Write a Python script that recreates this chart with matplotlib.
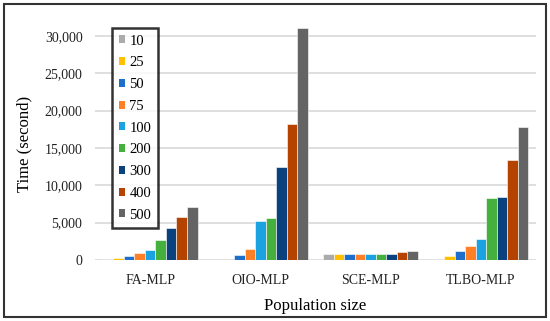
import matplotlib
matplotlib.use("Agg")
import matplotlib.pyplot as plt
import numpy as np
from matplotlib.patches import Patch, Rectangle
from matplotlib.ticker import FuncFormatter

plt.rcParams['font.family'] = ['Liberation Serif', 'DejaVu Serif']

categories = ["FA-MLP", "OIO-MLP", "SCE-MLP", "TLBO-MLP"]
pop_sizes = ["10", "25", "50", "75", "100", "200", "300", "400", "500"]
# one list per model, values for each population size
fa_mlp = [100, 270, 580, 980, 1340, 2680, 4240, 5800, 7150]
oio_mlp = [0, 0, 700, 1500, 5200, 5600, 12400, 18200, 31000]
sce_mlp = [760, 760, 790, 790, 800, 830, 830, 1050, 1250]
tlbo_mlp = [150, 600, 1180, 1900, 2830, 8270, 8450, 13400, 17800]
yticks = [0, 5000, 10000, 15000, 20000, 25000, 30000]

colors = ['#ABABAB', '#FFC000', '#1E6FC9', '#FF7F27', '#1CA2E0',
          '#46B03E', '#0B427E', '#B44300', '#646464']

data = np.array([fa_mlp, oio_mlp, sce_mlp, tlbo_mlp])  # shape (4, 9)

fig = plt.figure(figsize=(5.5, 3.21), dpi=100)
ax = fig.add_axes([95/550, 1-260/321, 441/550, (260-27)/321])

n = len(pop_sizes)
group_w = 0.86
bw = group_w / n
x = np.arange(len(categories))
for i in range(n):
    ax.bar(x - group_w/2 + bw*(i+0.5), data[:, i], width=bw, color=colors[i],
           edgecolor='white', linewidth=0.4, zorder=3, label=pop_sizes[i])

ax.set_xlim(-0.5, len(categories)-0.5)
ax.set_ylim(0, 31200)
ax.set_yticks(yticks)
ax.yaxis.set_major_formatter(FuncFormatter(lambda v, p: f"{int(v):,}"))
ax.set_xticks(x)
ax.set_xticklabels(categories)
ax.tick_params(axis='both', length=0, labelsize=10, colors='#222222')
ax.tick_params(axis='y', pad=9)
ax.tick_params(axis='x', pad=10)
ax.grid(axis='y', color='#D9D9D9', linewidth=1.2, zorder=0)
for s in ax.spines.values():
    s.set_visible(False)

ax.set_ylabel("Time (second)", fontsize=12, labelpad=9)
ax.set_xlabel("Population size", fontsize=12, labelpad=8)

handles = [Patch(facecolor=c, edgecolor='none') for c in colors]
leg = ax.legend(handles, pop_sizes, loc='upper left',
                bbox_to_anchor=(112/550, 1-28/321), bbox_transform=fig.transFigure,
                fontsize=10.5, frameon=True, fancybox=False, edgecolor='black',
                handlelength=0.45, handleheight=0.45, handletextpad=0.3,
                labelspacing=0.6, borderpad=0.45, borderaxespad=0)
leg.get_frame().set_linewidth(1.8)
leg.set_zorder(5)

fig.add_artist(Rectangle((4/550, 4/321), 542/550, 313/321, transform=fig.transFigure,
                         fill=False, edgecolor='#333333', linewidth=1.5))

fig.savefig("out.png", dpi=100)
